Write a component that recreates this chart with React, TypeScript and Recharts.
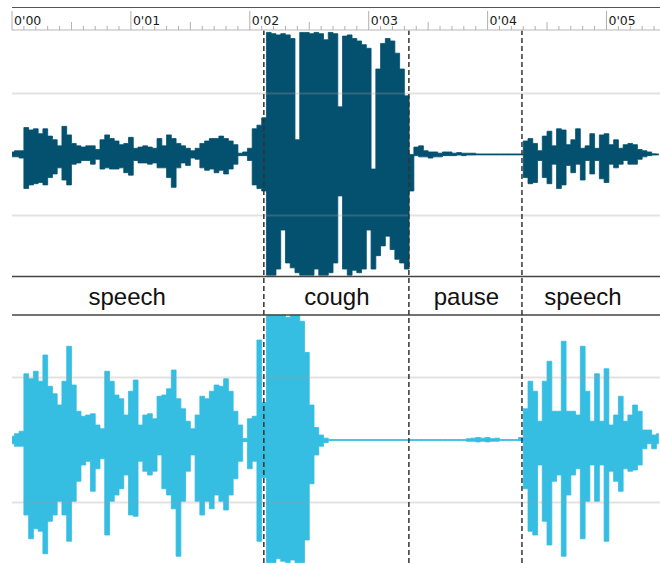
import { ComposedChart, Area, XAxis, YAxis, ReferenceLine } from "recharts";

// one envelope sample every 0.04 s
const sampleStep = 0.04;

// upper recording (dark), min/max per sample
const topHi = [
  0.02, 0.03, 0.03, 0.22, 0.2, 0.21, 0.17, 0.21, 0.15, 0.12,
  0.07, 0.23, 0.16, 0.09, 0.07, 0.06, 0.07, 0.07, 0.04, 0.12,
  0.16, 0.13, 0.11, 0.08, 0.09, 0.14, 0.05, 0.06, 0.07, 0.06,
  0.05, 0.13, 0.07, 0.16, 0.13, 0.09, 0.07, 0.05, 0.03, 0.05,
  0.09, 0.11, 0.13, 0.13, 0.15, 0.13, 0.11, 0.08, 0.01, 0.02,
  0.05, 0.21, 0.24, 0.3, 1.0, 0.99, 0.98, 0.99, 0.98, 0.95,
  0.12, 1.0, 1.0, 0.99, 1.0, 0.99, 0.94, 1.0, 0.99, 0.39,
  0.97, 0.98, 0.95, 0.93, 0.9, 0.87, -0.12, 0.7, 0.91, 0.95,
  0.93, 0.83, 0.7, 0.48, 0.0, 0.06, 0.07, 0.03, 0.02, 0.02,
  0.01, 0.02, 0.02, 0.01, 0.015, 0.01, 0.01, 0.01, 0.004, 0.004,
  0.004, 0.004, 0.004, 0.004, 0.004, 0.004, 0.004, 0.004, 0.11, 0.13,
  0.09, 0.03, 0.15, 0.19, 0.07, 0.21, 0.2, 0.08, 0.12, 0.21,
  0.05, 0.07, 0.17, 0.05, 0.16, 0.17, 0.08, 0.12, 0.05, 0.08,
  0.09, 0.08, 0.04, 0.03, 0.02, 0.005, 0.004,
];
const topLo = [
  -0.02, -0.02, -0.03, -0.28, -0.25, -0.24, -0.23, -0.25, -0.19, -0.16,
  -0.11, -0.21, -0.25, -0.08, -0.07, -0.05, -0.05, -0.08, -0.04, -0.12,
  -0.11, -0.12, -0.12, -0.11, -0.15, -0.17, -0.05, -0.07, -0.07, -0.08,
  -0.07, -0.11, -0.11, -0.19, -0.27, -0.11, -0.07, -0.09, -0.03, -0.04,
  -0.11, -0.13, -0.12, -0.15, -0.13, -0.16, -0.12, -0.08, -0.01, -0.01,
  -0.05, -0.25, -0.28, -0.3, -0.99, -0.99, -0.94, -0.62, -0.89, -0.93,
  -0.97, -0.99, -0.99, -0.99, -0.94, -0.99, -0.99, -0.97, -0.89, -0.34,
  -0.94, -0.99, -0.95, -0.97, -0.94, -0.62, -0.94, -0.83, -0.75, -0.67,
  -0.78, -0.86, -0.89, -0.94, -0.3, -0.01, -0.02, -0.02, -0.03, -0.02,
  -0.02, -0.01, -0.01, -0.01, -0.005, -0.01, -0.005, -0.005, -0.004, -0.004,
  -0.004, -0.004, -0.004, -0.004, -0.004, -0.004, -0.004, -0.004, -0.19, -0.24,
  -0.23, -0.05, -0.19, -0.24, -0.08, -0.28, -0.25, -0.09, -0.15, -0.08,
  -0.21, -0.05, -0.16, -0.05, -0.2, -0.23, -0.08, -0.11, -0.08, -0.05,
  -0.08, -0.08, -0.04, -0.02, -0.01, -0.005, -0.004,
];

// lower recording (light)
const botHi = [
  0.03, 0.05, 0.07, 0.53, 0.49, 0.55, 0.47, 0.68, 0.43, 0.37,
  0.28, 0.47, 0.75, 0.44, 0.23, 0.19, 0.2, 0.21, 0.12, 0.09,
  0.55, 0.47, 0.36, 0.33, 0.2, 0.39, 0.48, 0.12, 0.2, 0.21,
  0.17, 0.35, 0.36, 0.41, 0.56, 0.33, 0.25, 0.15, 0.09, 0.2,
  0.35, 0.33, 0.39, 0.44, 0.43, 0.49, 0.39, 0.23, 0.12, 0.013,
  0.17, 0.19, 0.8, 0.3, 1, 1, 1, 1, 0.98, 1,
  1, 0.95, 0.7, 0.28, 0.1, 0.04, 0.015, 0.004, 0.004, 0.004,
  0.004, 0.004, 0.004, 0.004, 0.004, 0.004, 0.004, 0.004, 0.004, 0.004,
  0.004, 0.004, 0.004, 0.004, 0.004, 0.004, 0.004, 0.004, 0.004, 0.004,
  0.004, 0.004, 0.004, 0.004, 0.004, 0.004, 0.01, 0.015, 0.02, 0.015,
  0.02, 0.01, 0.015, 0.004, 0.004, 0.004, 0.004, 0.02, 0.25, 0.47,
  0.39, 0.15, 0.47, 0.63, 0.23, 0.23, 0.79, 0.23, 0.23, 0.2,
  0.75, 0.39, 0.15, 0.53, 0.15, 0.57, 0.12, 0.2, 0.35, 0.15,
  0.2, 0.28, 0.23, 0.08, 0.08, 0.04, 0.05,
];
const botLo = [
  -0.03, -0.05, -0.05, -0.6, -0.79, -0.71, -0.73, -0.91, -0.65, -0.6,
  -0.49, -0.6, -0.81, -0.49, -0.33, -0.2, -0.17, -0.41, -0.23, -0.15,
  -0.76, -0.49, -0.44, -0.39, -0.28, -0.6, -0.61, -0.17, -0.25, -0.28,
  -0.25, -0.12, -0.39, -0.44, -0.55, -0.93, -0.49, -0.25, -0.12, -0.49,
  -0.6, -0.49, -0.55, -0.44, -0.49, -0.56, -0.44, -0.31, -0.17, -0.013,
  -0.23, -0.17, -0.81, -0.3, -0.98, -0.98, -0.95, -0.97, -0.98, -0.96,
  -0.98, -0.98, -0.8, -0.35, -0.12, -0.05, -0.02, -0.004, -0.004, -0.004,
  -0.004, -0.004, -0.004, -0.004, -0.004, -0.004, -0.004, -0.004, -0.004, -0.004,
  -0.004, -0.004, -0.004, -0.004, -0.004, -0.004, -0.004, -0.004, -0.004, -0.004,
  -0.004, -0.004, -0.004, -0.004, -0.004, -0.004, -0.01, -0.01, -0.015, -0.01,
  -0.015, -0.01, -0.01, -0.004, -0.004, -0.004, -0.004, -0.005, -0.39, -0.73,
  -0.76, -0.2, -0.65, -0.84, -0.33, -0.28, -0.93, -0.44, -0.28, -0.23,
  -0.79, -0.49, -0.2, -0.49, -0.2, -0.81, -0.25, -0.33, -0.41, -0.23,
  -0.25, -0.24, -0.2, -0.07, -0.03, -0.07, -0.03,
];

const secondLabels = ["0'00", "0'01", "0'02", "0'03", "0'04", "0'05"];
const segmentEdges = [2.118, 3.338, 4.289];
const segmentNames = ["speech", "cough", "pause", "speech"];
const segmentCenters = [0.969, 2.732, 3.822, 4.802];
const gridLevels = [0.5, -0.5];

const data = topHi.map((_, i) => ({
  t: +(i * sampleStep).toFixed(2),
  top: [topLo[i], topHi[i]],
  bot: [botLo[i], botHi[i]],
}));

const rulerTicks = Array.from({ length: 55 }, (_, i) => i / 10);

function RulerTick(props: any) {
  const { x, y, payload } = props;
  const tenth = Math.round(payload.value * 10);
  const major = tenth % 10 === 0;
  const half = tenth % 10 === 5;
  const len = major ? 19 : half ? 8 : 4;
  return (
    <g>
      <line x1={x} x2={x} y1={y} y2={y - len} stroke="#b0b0b0" strokeWidth={1} />
      {major && (
        <text x={x + 2} y={y - 5} fontSize={12.5} fill="#1a1a1a" fontFamily="DejaVu Sans">
          {secondLabels[tenth / 10]}
        </text>
      )}
    </g>
  );
}

export default function App() {
  return (
    <div style={{ position: "relative", width: 660, height: 563, background: "#fff" }}>
      <style>{"body{margin:0}"}</style>
      <div
        style={{
          position: "absolute",
          left: 12,
          top: 7,
          width: 648,
          borderTop: "1.5px solid #555",
        }}
      />
      <ComposedChart
        width={660}
        height={563}
        data={data}
        margin={{ top: 8, right: 0, bottom: 0, left: 12 }}
      >
        <XAxis
          dataKey="t"
          type="number"
          orientation="top"
          domain={[0, 5.45]}
          allowDataOverflow
          ticks={rulerTicks}
          interval={0}
          height={22}
          tickSize={0}
          tickMargin={0}
          tickLine={false}
          axisLine={{ stroke: "#cfcfcf", strokeWidth: 1.5 }}
          tick={<RulerTick />}
        />
        <YAxis yAxisId="top" hide domain={[-3.35, 1.02]} allowDataOverflow />
        <YAxis yAxisId="bot" hide domain={[-0.984, 3.28]} allowDataOverflow />

        <Area
          yAxisId="top"
          dataKey="top"
          type="step"
          stroke="#03506f"
          strokeWidth={0.8}
          fill="#03506f"
          fillOpacity={1}
          dot={false}
          activeDot={false}
          isAnimationActive={false}
        />
        <Area
          yAxisId="bot"
          dataKey="bot"
          type="step"
          stroke="#35bde2"
          strokeWidth={0.8}
          fill="#35bde2"
          fillOpacity={1}
          dot={false}
          activeDot={false}
          isAnimationActive={false}
        />

        {gridLevels.map((v) => (
          <ReferenceLine key={"gt" + v} yAxisId="top" y={v} stroke="#a0a0a0" strokeOpacity={0.3} strokeWidth={2} />
        ))}
        {gridLevels.map((v) => (
          <ReferenceLine key={"gb" + v} yAxisId="bot" y={v} stroke="#a0a0a0" strokeOpacity={0.3} strokeWidth={2} />
        ))}
        <ReferenceLine yAxisId="top" y={-1} stroke="#444" strokeWidth={1.5} />
        <ReferenceLine yAxisId="bot" y={1} stroke="#444" strokeWidth={1.5} />

        {segmentEdges.map((t) => (
          <ReferenceLine
            key={"e" + t}
            yAxisId="top"
            x={t}
            stroke="#333"
            strokeWidth={1.5}
            strokeDasharray="5 3"
          />
        ))}
        {segmentCenters.map((t, i) => (
          <ReferenceLine
            key={"l" + i}
            yAxisId="top"
            x={t}
            stroke="none"
            label={{
              value: segmentNames[i],
              position: "center",
              fill: "#111",
              fontSize: 24,
              fontFamily: "Liberation Sans, Arial, sans-serif",
            }}
          />
        ))}
      </ComposedChart>
    </div>
  );
}
